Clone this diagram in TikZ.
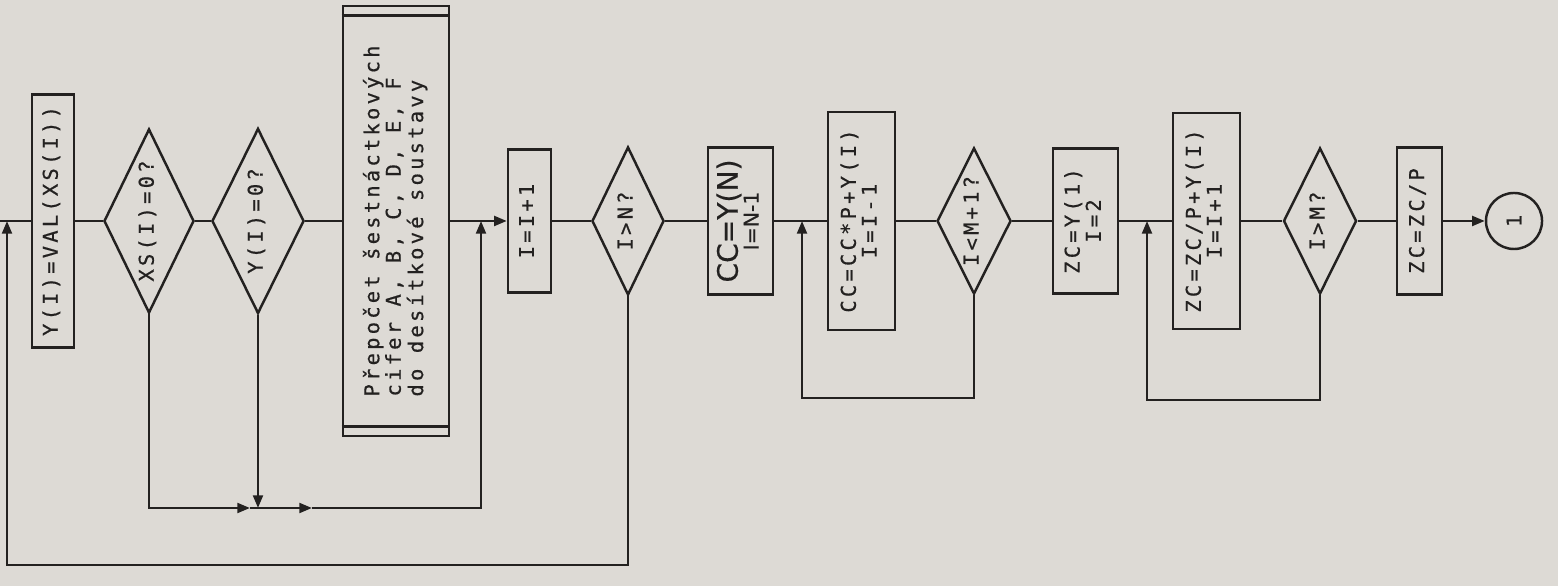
\documentclass[tikz,border=0pt]{standalone}
\usepackage{fontspec}
\usepackage{graphicx}
\usetikzlibrary{shapes.geometric,arrows.meta}
\newfontfamily\tw[LetterSpace=16,FakeBold=0.6]{DejaVu Sans Mono}
\newfontfamily\hand[FakeBold=0.4]{DejaVu Sans}
\definecolor{paper}{RGB}{221,218,213}
\definecolor{ink}{RGB}{35,33,32}
% text of a block, set upright in a column and turned a quarter turn
\newcommand{\vtext}[2][c]{\rotatebox{90}{\begin{tabular}{@{}#1@{}}#2\end{tabular}}}
\begin{document}
\begin{tikzpicture}[x=0.01cm,y=-0.01cm,line width=0.7pt,color=ink,
  txt/.style={font=\tw\fontsize{5.8pt}{5.7pt}\selectfont},
  box/.style={draw,rectangle,inner sep=0pt,txt},
  dec/.style={draw,diamond,aspect=0.49,inner sep=0pt,txt},
  arr/.style={-{Triangle[length=3.6pt,width=2.8pt]}}]
\fill[paper] (0,0) rectangle (1558,586);
\useasboundingbox (0,0) rectangle (1558,586);

% blocks along the main line
\node[box,minimum width=0.42cm,minimum height=2.53cm] (val) at (53,221) {\vtext{Y(I)=VAL(XS(I))}};
\node[dec,minimum width=0.90cm,minimum height=1.84cm] (xs) at (149,221) {\vtext{XS(I)=0?}};
\node[dec,minimum width=0.92cm,minimum height=1.85cm] (yz) at (258,221) {\vtext{Y(I)=0?}};
\node[box,minimum width=1.06cm,minimum height=4.30cm] (conv) at (396,221)
  {\raisebox{0pt}{\vtext[l]{Přepočet šestnáctkových\\cifer A, B, C, D, E, F\\do desítkové soustavy}}};
\node[box,minimum width=0.43cm,minimum height=1.43cm] (inc) at (529.5,221) {\vtext{I=I+1}};
\node[dec,minimum width=0.72cm,minimum height=1.48cm] (ign) at (628,221) {\vtext{I>N?}};
\node[box,minimum width=0.65cm,minimum height=1.47cm] (cci) at (740.5,221)
  {\vtext{{\hand\fontsize{8pt}{8pt}\selectfont CC=Y(N)}\\{\hand\fontsize{5.8pt}{6pt}\selectfont I=N-1}}};
\node[box,minimum width=0.67cm,minimum height=2.18cm] (ccs) at (861.5,221) {\vtext{CC=CC*P+Y(I)\\I=I-1}};
\node[dec,minimum width=0.74cm,minimum height=1.46cm] (iml) at (974,221) {\vtext{I<M+1?}};
\node[box,minimum width=0.65cm,minimum height=1.45cm] (zci) at (1085.5,221) {\vtext{ZC=Y(1)\\I=2}};
\node[box,minimum width=0.67cm,minimum height=2.16cm] (zcs) at (1206.5,221) {\vtext{ZC=ZC/P+Y(I)\\I=I+1}};
\node[dec,minimum width=0.73cm,minimum height=1.46cm] (igm) at (1320,221) {\vtext{I>M?}};
\node[box,minimum width=0.45cm,minimum height=1.47cm] (zcf) at (1419.5,221) {\vtext{ZC=ZC/P}};
\node[draw,circle,minimum size=0.56cm,inner sep=0pt,txt] (con) at (1514,221) {\rotatebox{90}{1}};

% double bars of the predefined process
\draw ([yshift=-0.11cm]conv.north west) -- ([yshift=-0.11cm]conv.north east);
\draw ([yshift=0.11cm]conv.south west) -- ([yshift=0.11cm]conv.south east);

% points of the connectors
\coordinate (src) at (0,221);
\coordinate (back) at (7,221);
\coordinate (lowA) at (7,565);
\coordinate (j) at (258,508);
\coordinate (ja) at (250,508);
\coordinate (jb) at (312,508);
\coordinate (merge) at (481,221);
\coordinate (lowB) at (802,398);
\coordinate (retB) at (802,221);
\coordinate (lowC) at (1147,400);
\coordinate (retC) at (1147,221);

% main line
\draw (src) -- (val);
\draw (val) -- (xs);
\draw (xs) -- (yz);
\draw (yz) -- (conv);
\draw[arr] (conv) -- (inc);
\draw (inc) -- (ign);
\draw (ign) -- (cci);
\draw (cci) -- (ccs);
\draw (ccs) -- (iml);
\draw (iml) -- (zci);
\draw (zci) -- (zcs);
\draw (zcs) -- (igm);
\draw (igm) -- (zcf);
\draw[arr] (zcf) -- (con);

% by-passes of the conversion
\draw[arr] (xs.south) |- (ja);
\draw (ja) -- (j);
\draw[arr] (yz.south) -- (j);
\draw[arr] (j) -- (jb);
\draw[arr] (jb) -| (merge);

% loops back
\draw[arr] (ign.south) |- (lowA) -- (back);
\draw[arr] (iml.south) |- (lowB) -- (retB);
\draw[arr] (igm.south) |- (lowC) -- (retC);
\end{tikzpicture}
\end{document}
